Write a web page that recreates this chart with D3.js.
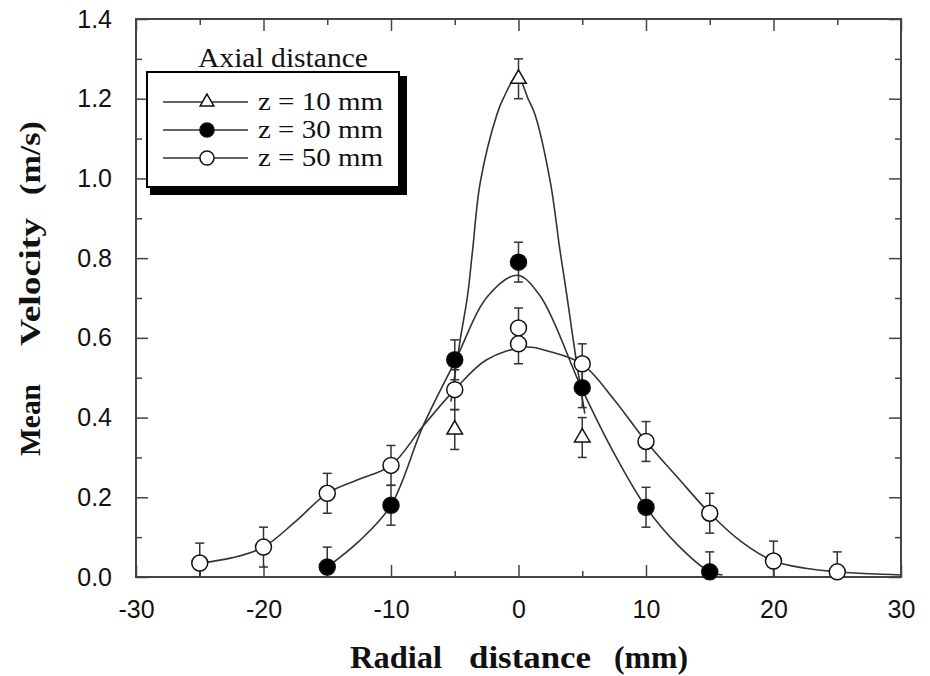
<!DOCTYPE html>
<html>
<head>
<meta charset="utf-8">
<script src="https://cdn.jsdelivr.net/npm/d3@7"></script>
<style>
  body { margin: 0; background: #fff; }
  svg { display: block; }
</style>
</head>
<body>
<script>
// ---------- data ----------
const xTickLabels = [-30, -20, -10, 0, 10, 20, 30];
const xMinorTicks = [-25, -15, -5, 5, 15, 25];
const yTickLabels = [0, 0.2, 0.4, 0.6, 0.8, 1.0, 1.2, 1.4];
const yMinorTicks = [0.1, 0.3, 0.5, 0.7, 0.9, 1.1, 1.3];

const legendTitle = "Axial distance";
const seriesNames = ["z = 10 mm", "z = 30 mm", "z = 50 mm"];

// measured points (radial mm, velocity m/s, error)
const z10X = [-5, 0, 5];
const z10V = [0.37, 1.25, 0.35];
const z10E = [0.05, 0.05, 0.05];

const z30X = [-15, -10, -5, 0, 5, 10, 15];
const z30V = [0.025, 0.18, 0.545, 0.79, 0.475, 0.175, 0.013];
const z30E = [0.05, 0.05, 0.05, 0.05, 0.05, 0.05, 0.05];

const z50X = [-25, -20, -15, -10, -5, 0, 0, 5, 10, 15, 20, 25];
const z50V = [0.035, 0.075, 0.21, 0.28, 0.47, 0.625, 0.585, 0.535, 0.34, 0.16, 0.04, 0.013];
const z50E = [0.05, 0.05, 0.05, 0.05, 0.05, 0.05, 0.05, 0.05, 0.05, 0.05, 0.05, 0.05];

// fitted curves
const fit10X = [-5.3, -4.6, -4.0, -3.6, -3.0, -1.7, -1.2, -0.1, 0.75, 1.3, 2.5, 3.25, 3.8, 4.5, 5.2];
const fit10V = [0.44, 0.59, 0.705, 0.82, 0.99, 1.16, 1.20, 1.257, 1.20, 1.16, 0.99, 0.82, 0.705, 0.55, 0.41];

const fit30X = [-15, -12.5, -10, -7.5, -5, -2.4, -0.1, 1.7, 5, 7.5, 10, 12.5, 15, 16];
const fit30V = [0.025, 0.09, 0.18, 0.378, 0.54, 0.705, 0.757, 0.705, 0.47, 0.31, 0.175, 0.08, 0.013, 0.005];

const fit50X = [-25, -22.5, -20, -17.5, -15, -12.5, -10, -7.5, -5, -2.5, 0.6, 2.5, 5, 7.5, 10, 12.5, 15, 17.5, 20, 22.5, 25, 27.5, 30];
const fit50V = [0.035, 0.048, 0.075, 0.139, 0.21, 0.245, 0.28, 0.378, 0.47, 0.545, 0.577, 0.565, 0.534, 0.445, 0.34, 0.249, 0.16, 0.088, 0.04, 0.022, 0.013, 0.008, 0.005];

// ---------- drawing ----------
const W = 930, H = 676;
const svg = d3.select("body").append("svg").attr("width", W).attr("height", H);

const x = d3.scaleLinear().domain([-30, 30]).range([136, 901]);
const y = d3.scaleLinear().domain([0, 1.4]).range([577, 19]);

const sansFont = "'Liberation Sans', Arial, Helvetica, sans-serif";
const serifFont = "'Liberation Serif', 'Times New Roman', serif";
const frameColor = "#444";

svg.append("defs").append("clipPath").attr("id", "plotClip")
  .append("rect").attr("x", x(-30)).attr("y", y(1.4))
  .attr("width", x(30) - x(-30)).attr("height", y(0) - y(1.4));

function styleAxis(g) {
  g.select(".domain").remove();
  g.selectAll(".tick line").attr("stroke", frameColor).attr("stroke-width", 1.5);
}
const hyphenFmt = d => String(d);

// bottom axis (labels + major ticks)
svg.append("g").attr("transform", `translate(0,${y(0)})`)
  .call(d3.axisBottom(x).tickValues(xTickLabels).tickSizeInner(-12).tickSizeOuter(0).tickPadding(23)
    .tickFormat(hyphenFmt))
  .call(styleAxis)
  .call(g => g.selectAll("text").attr("font-family", sansFont).attr("font-size", 25).attr("fill", "#111"));
svg.append("g").attr("transform", `translate(0,${y(0)})`)
  .call(d3.axisBottom(x).tickValues(xMinorTicks).tickSizeInner(-6).tickSizeOuter(0).tickFormat(""))
  .call(styleAxis);
// top axis
svg.append("g").attr("transform", `translate(0,${y(1.4)})`)
  .call(d3.axisTop(x).tickValues(xTickLabels).tickSizeInner(-12).tickSizeOuter(0).tickFormat(""))
  .call(styleAxis);
svg.append("g").attr("transform", `translate(0,${y(1.4)})`)
  .call(d3.axisTop(x).tickValues(xMinorTicks).tickSizeInner(-6).tickSizeOuter(0).tickFormat(""))
  .call(styleAxis);
// left axis
svg.append("g").attr("transform", `translate(${x(-30)},0)`)
  .call(d3.axisLeft(y).tickValues(yTickLabels).tickSizeInner(-12).tickSizeOuter(0).tickPadding(24)
    .tickFormat(d3.format(".1f")))
  .call(styleAxis)
  .call(g => g.selectAll("text").attr("font-family", sansFont).attr("font-size", 25).attr("fill", "#111"));
svg.append("g").attr("transform", `translate(${x(-30)},0)`)
  .call(d3.axisLeft(y).tickValues(yMinorTicks).tickSizeInner(-6).tickSizeOuter(0).tickFormat(""))
  .call(styleAxis);
// right axis
svg.append("g").attr("transform", `translate(${x(30)},0)`)
  .call(d3.axisRight(y).tickValues(yTickLabels).tickSizeInner(-12).tickSizeOuter(0).tickFormat(""))
  .call(styleAxis);
svg.append("g").attr("transform", `translate(${x(30)},0)`)
  .call(d3.axisRight(y).tickValues(yMinorTicks).tickSizeInner(-6).tickSizeOuter(0).tickFormat(""))
  .call(styleAxis);

// frame
svg.append("rect")
  .attr("x", x(-30)).attr("y", y(1.4))
  .attr("width", x(30) - x(-30)).attr("height", y(0) - y(1.4))
  .attr("fill", "none").attr("stroke", frameColor).attr("stroke-width", 2);

// axis titles
const xt = svg.append("g").attr("font-family", serifFont).attr("font-weight", "bold")
  .attr("font-size", 32).attr("fill", "#111");
[["Radial", 396, 92], ["distance", 530, 122], ["(mm)", 651, 74]].forEach(([t, c, L]) => {
  xt.append("text").attr("x", c - L / 2).attr("y", 668)
    .attr("textLength", L).attr("lengthAdjust", "spacingAndGlyphs").text(t);
});

const yt = svg.append("g").attr("transform", "translate(40,0) rotate(-90)");
[["Mean", 420, 72], ["Velocity", 282, 128], ["(m/s)", 158, 74]].forEach(([t, c, L]) => {
  yt.append("text").attr("x", -c - L / 2).attr("y", 0)
    .attr("textLength", L).attr("lengthAdjust", "spacingAndGlyphs")
    .attr("font-family", serifFont).attr("font-weight", "bold").attr("font-size", 30)
    .attr("fill", "#111").text(t);
});

// fitted curves
const plot = svg.append("g").attr("clip-path", "url(#plotClip)");
const line = d3.line().x(d => x(d[0])).y(d => y(d[1])).curve(d3.curveCatmullRom.alpha(0.5));
const curves = [
  d3.zip(fit10X, fit10V),
  d3.zip(fit30X, fit30V),
  d3.zip(fit50X, fit50V)
];
curves.forEach(c => {
  plot.append("path").datum(c).attr("d", line)
    .attr("fill", "none").attr("stroke", "#333").attr("stroke-width", 1.6);
});

// series definitions
const series = [
  { name: seriesNames[0], pts: d3.zip(z10X, z10V, z10E), type: "tri", fill: "#fff" },
  { name: seriesNames[1], pts: d3.zip(z30X, z30V, z30E), type: "circ", fill: "#000" },
  { name: seriesNames[2], pts: d3.zip(z50X, z50V, z50E), type: "circ", fill: "#fff" }
];

// error bars
const capHalf = 4.5;
series.forEach(s => {
  const g = plot.append("g").attr("stroke", "#333").attr("stroke-width", 1.5);
  s.pts.forEach(([px, pv, pe]) => {
    const cx = x(px), y1 = y(pv - pe), y2 = y(pv + pe);
    g.append("line").attr("x1", cx).attr("x2", cx).attr("y1", y1).attr("y2", y2);
    g.append("line").attr("x1", cx - capHalf).attr("x2", cx + capHalf).attr("y1", y1).attr("y2", y1);
    g.append("line").attr("x1", cx - capHalf).attr("x2", cx + capHalf).attr("y1", y2).attr("y2", y2);
  });
});

// markers
function drawMarker(g, type, fill, cx, cy, scale) {
  if (type === "tri") {
    g.append("path")
      .attr("d", d3.symbol(d3.symbolTriangle, 105 * scale * scale)())
      .attr("transform", `translate(${cx},${cy})`)
      .attr("fill", fill).attr("stroke", "#111").attr("stroke-width", 1.5);
  } else {
    g.append("circle").attr("cx", cx).attr("cy", cy).attr("r", 8 * scale)
      .attr("fill", fill).attr("stroke", "#111").attr("stroke-width", 1.5);
  }
}
series.forEach(s => {
  const g = svg.append("g");
  s.pts.forEach(([px, pv]) => drawMarker(g, s.type, s.fill, x(px), y(pv), 1));
});

// legend
const lg = svg.append("g");
lg.append("text").attr("x", 283).attr("y", 67).attr("text-anchor", "middle")
  .attr("font-family", serifFont).attr("font-size", 27).attr("fill", "#111")
  .attr("textLength", 170).attr("lengthAdjust", "spacingAndGlyphs")
  .text(legendTitle);
lg.append("rect").attr("x", 150).attr("y", 76).attr("width", 257).attr("height", 119).attr("fill", "#000");
lg.append("rect").attr("x", 147).attr("y", 72).attr("width", 252).attr("height", 115)
  .attr("fill", "#fff").attr("stroke", "#000").attr("stroke-width", 2);
const rowY = [102, 130, 158];
series.forEach((s, i) => {
  const ry = rowY[i];
  lg.append("line").attr("x1", 163).attr("x2", 248).attr("y1", ry).attr("y2", ry)
    .attr("stroke", "#333").attr("stroke-width", 1.6);
  drawMarker(lg, s.type, s.fill, 207, ry, 0.88);
  lg.append("text").attr("x", 258).attr("y", ry + 8)
    .attr("font-family", serifFont).attr("font-size", 26).attr("fill", "#111")
    .attr("textLength", 125).attr("lengthAdjust", "spacingAndGlyphs")
    .text(s.name);
});
</script>
</body>
</html>
